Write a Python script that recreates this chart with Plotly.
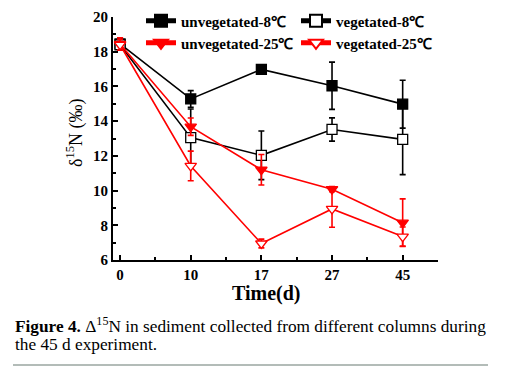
import plotly.graph_objects as go

days = ["0", "10", "17", "27", "45"]
unveg8 = [18.45, 15.28, 16.98, 16.04, 14.98]
unveg8_err = [0.35, 0.48, 0.10, 1.36, 1.38]
veg8 = [18.4, 13.05, 12.03, 13.52, 12.95]
veg8_err = [0.3, 1.65, 1.4, 0.67, 2.03]
unveg25 = [18.45, 13.68, 11.2, 10.08, 8.15]
unveg25_err = [0.35, 0.5, 0.88, 0.15, 1.37]
veg25 = [18.4, 11.42, 6.95, 8.94, 7.35]
veg25_err = [0.3, 0.85, 0.25, 1.05, 0.55]

xs = list(range(len(days)))
FONT = "Liberation Serif"
RED = "#ff0000"
W, H = 531, 366
OFF = 8  # page body margin
L, R, T, B = 113 - OFF, 438 - OFF, 17 - OFF, 260 - OFF  # plot area in div pixels
PW, PH = R - L, B - T

def px_x(x):
    return (x - OFF - L) / PW

def px_y(y):
    return (B - (y - OFF)) / PH

fig = go.Figure()

def add(name, y, e, color, symbol, fill, legend):
    fig.add_trace(go.Scatter(
        x=xs, y=y, name=name, mode="lines+markers",
        line=dict(color=color, width=1.6),
        marker=dict(symbol=symbol, size=10, color=fill, line=dict(color=color, width=1.3)),
        error_y=dict(type="data", array=e, color=color, thickness=1.6, width=3),
        legend=legend,
    ))

add("unvegetated-8\u2103", unveg8, unveg8_err, "black", "square", "black", "legend")
add("vegetated-8\u2103", veg8, veg8_err, "black", "square", "white", "legend2")
add("unvegetated-25\u2103", unveg25, unveg25_err, RED, "triangle-down", RED, "legend3")
add("vegetated-25\u2103", veg25, veg25_err, RED, "triangle-down", "white", "legend4")

def leg(px, py):
    return dict(xref="container", yref="container", x=(px - OFF) / W, y=1 - (py - OFF) / H,
                xanchor="left", yanchor="middle", bgcolor="rgba(0,0,0,0)",
                font=dict(family=FONT, size=15, color="black", weight="bold"),
                itemsizing="constant")

fig.update_layout(
    width=W, height=H,
    margin=dict(l=L, r=W - R, t=T, b=H - B, autoexpand=False),
    paper_bgcolor="white", plot_bgcolor="white",
    showlegend=True,
    legend=leg(141, 21),
    legend2=leg(296, 21),
    legend3=leg(141, 43),
    legend4=leg(296, 43),
    font=dict(family=FONT, color="black"),
    xaxis=dict(
        range=[-0.1, 4.5], tickvals=xs, ticktext=days,
        showline=True, linecolor="black", linewidth=2,
        ticks="inside", ticklen=5, tickwidth=2, tickcolor="black",
        minor=dict(tickvals=[0.5, 1.5, 2.5, 3.5, 4.5], ticks="inside", ticklen=3, tickwidth=2, tickcolor="black"),
        showgrid=False, zeroline=False,
        tickfont=dict(family=FONT, size=15, color="black", weight="bold"),
    ),
    yaxis=dict(
        range=[6, 20], tickvals=[6, 8, 10, 12, 14, 16, 18, 20],
        showline=True, linecolor="black", linewidth=2,
        ticks="inside", ticklen=5, tickwidth=2, tickcolor="black",
        minor=dict(tickvals=[7, 9, 11, 13, 15, 17, 19], ticks="inside", ticklen=3, tickwidth=2, tickcolor="black"),
        showgrid=False, zeroline=False,
        tickfont=dict(family=FONT, size=15, color="black", weight="bold"),
    ),
)

fig.add_annotation(xref="paper", yref="paper", x=px_x(75), y=px_y(133), xanchor="center", yanchor="middle",
                   text="\u03b4<sup>15</sup>N (\u2030)", textangle=-90, showarrow=False,
                   font=dict(family=FONT, size=18, color="black"))
fig.add_annotation(xref="paper", yref="paper", x=px_x(266), y=px_y(293), xanchor="center", yanchor="middle",
                   text="<b>Time(d)</b>", showarrow=False,
                   font=dict(family=FONT, size=20, color="black"))
fig.add_annotation(xref="paper", yref="paper", x=px_x(13), y=px_y(312), xanchor="left", yanchor="top",
                   text="<b>Figure 4.</b> \u0394<sup>15</sup>N in sediment collected from different columns during",
                   showarrow=False, align="left", font=dict(family=FONT, size=17.3, color="black"))
fig.add_annotation(xref="paper", yref="paper", x=px_x(13), y=px_y(333), xanchor="left", yanchor="top",
                   text="the 45 d experiment.",
                   showarrow=False, align="left", font=dict(family=FONT, size=17.3, color="black"))
fig.add_shape(type="line", xref="paper", yref="paper", x0=px_x(13), x1=px_x(488), y0=px_y(365), y1=px_y(365),
              line=dict(color="#9aa6a0", width=1.5))

fig.write_html("out.html")
